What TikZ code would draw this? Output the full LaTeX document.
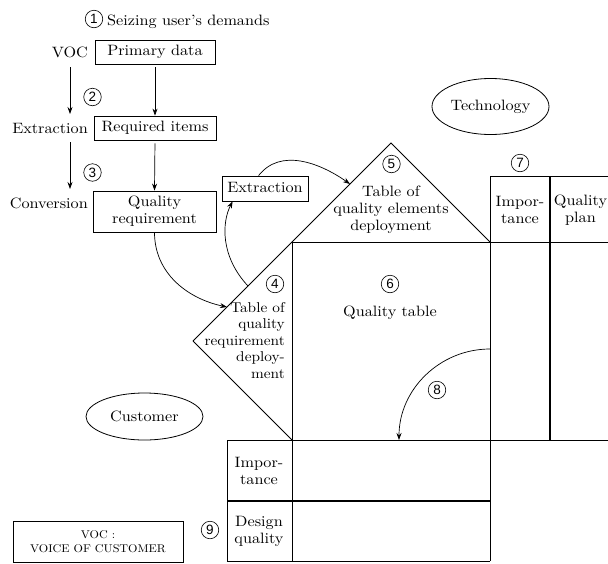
\documentclass[tikz,border=0pt]{standalone}
\usepackage{fontspec}
\setmainfont{lmroman10-regular.otf}[FakeStretch=1.08]
\newfontfamily\digitfont{Liberation Sans}
\usetikzlibrary{arrows.meta,shapes.geometric}

\tikzset{
  ln/.style={line width=0.8pt},
  rule/.style={line width=1.4pt},
  box/.style={draw, line width=0.8pt, inner sep=0pt, align=center},
  lbl/.style={inner sep=0pt, align=center},
  num/.style={circle, draw, line width=0.6pt, minimum size=17.5pt, inner sep=0pt,
              font=\digitfont\fontsize{13.5}{13.5}\selectfont},
  arr/.style={-{Stealth[length=7pt,width=5pt]}, line width=0.7pt},
  oval/.style={draw, ellipse, line width=0.8pt, inner sep=0pt},
}

\begin{document}
\begin{tikzpicture}[x=1pt, y=1pt, font=\fontsize{15}{17}\selectfont]
\useasboundingbox (0,0) rectangle (608,-563);

% --- left column: collecting demands ---
\node[num] (n1) at (94,-19) {1};
\node[lbl, anchor=base west] (title) at (107,-25.5) {Seizing user's demands};

\node[box, minimum width=120pt, minimum height=24pt, text height=10.5pt, text depth=3pt] (primary) at (155,-52) {Primary data};
\node[box, minimum width=122pt, minimum height=24pt, text height=10.5pt, text depth=3pt] (required) at (155,-128) {Required items};
\node[box, minimum width=123pt, minimum height=41pt] (qualreq) at (154.5,-211.5) {Quality\\requirement};

\node[lbl, anchor=base east] (voc) at (88,-57.3) {VOC};
\node[lbl, anchor=base east] (extrl) at (88,-133.3) {Extraction};
\node[lbl, anchor=base east] (conv) at (88,-208) {Conversion};

\node[num] (n2) at (92.5,-97) {2};
\node[num] (n3) at (92.5,-172.5) {3};

\coordinate (v1) at (70,-67);
\coordinate (v2) at (70,-114);
\coordinate (v3) at (70,-142);
\coordinate (v4) at (70,-189);
\draw[arr] (v1) -- (v2);
\draw[arr] (v3) -- (v4);
\draw[arr, shorten <=3pt] (primary.south) -- (required.north);
\draw[arr, shorten <=3pt] (required.south) -- (qualreq.north);

% --- house of quality outline ---
\coordinate (L)  at (193,-341);
\coordinate (TL) at (292,-242);
\coordinate (A)  at (391,-143);
\coordinate (TR) at (490,-242);
\coordinate (BL) at (292,-440);
\coordinate (BR) at (490,-440);

\draw[ln] (L) -- (A) -- (TR);
\draw[ln] (L) -- (BL);
\draw[ln] (TL) -- (608,-242);
\draw[ln] (TL) -- (292,-561);
\draw[ln] (490,-176) -- (490,-561);
\draw[ln] (490,-176) -- (608,-176);
\draw[rule] (550,-176) -- (550,-440);
\draw[ln] (227,-440) -- (608,-440);
\draw[ln] (227,-440) -- (227,-561) -- (490,-561);
\draw[rule] (227,-501) -- (490,-501);

% --- labels inside the house ---
\node[num] (n5) at (391.5,-164) {5};
\node[lbl] (roof) at (391,-210) {Table of\\quality elements\\deployment};
\node[num] (n4) at (275,-284) {4};
\node[num] (n6) at (390,-284) {6};
\node[lbl, align=right, anchor=north east, font=\fontsize{14.2}{16.5}\selectfont] (wall) at (285,-302) {Table of\\quality\\requirement\\deploy-\\ment};
\node[lbl] (qtable) at (390,-313) {Quality table};
\node[num] (n7) at (520,-163) {7};
\node[lbl] (imp1) at (520,-210) {Impor-\\tance};
\node[lbl] (plan) at (580.5,-210) {Quality\\plan};
\node[lbl] (imp2) at (259,-471) {Impor-\\tance};
\node[lbl] (design) at (259,-531) {Design\\quality};
\node[num] (n9) at (210,-530) {9};
\node[num] (n8) at (437,-390) {8};

% --- ellipses and legend ---
\node[oval, minimum width=117pt, minimum height=56pt] (tech) at (490.5,-106.5) {Technology};
\node[oval, minimum width=117pt, minimum height=47pt] (cust) at (144.5,-416.5) {Customer};
\node[box, minimum width=170pt, minimum height=41pt, font=\fontsize{11.2}{14}\selectfont] (legend) at (98,-541.5) {VOC :\\VOICE OF CUSTOMER};

% --- extraction loop ---
\node[box, minimum width=86pt, minimum height=25pt, text height=10.5pt, text depth=3pt] (extr) at (265,-188.5) {Extraction};
\coordinate (in4)  at (227,-307);
\coordinate (out4) at (248,-286);
\coordinate (in5)  at (350,-184);
\draw[arr] (qualreq.south) to[out=-90, in=168] (in4);
\draw[arr] (out4) .. controls (220,-256) and (222,-222) .. ([xshift=11pt]extr.south west);
\draw[arr] ([xshift=37pt]extr.north west) to[out=52, in=145] (in5);

% --- feed from quality table to design quality ---
\coordinate (s8) at (490,-349);
\coordinate (t8) at (399,-440);
\draw[arr] (s8) to[out=180, in=90] (t8);
\end{tikzpicture}
\end{document}
